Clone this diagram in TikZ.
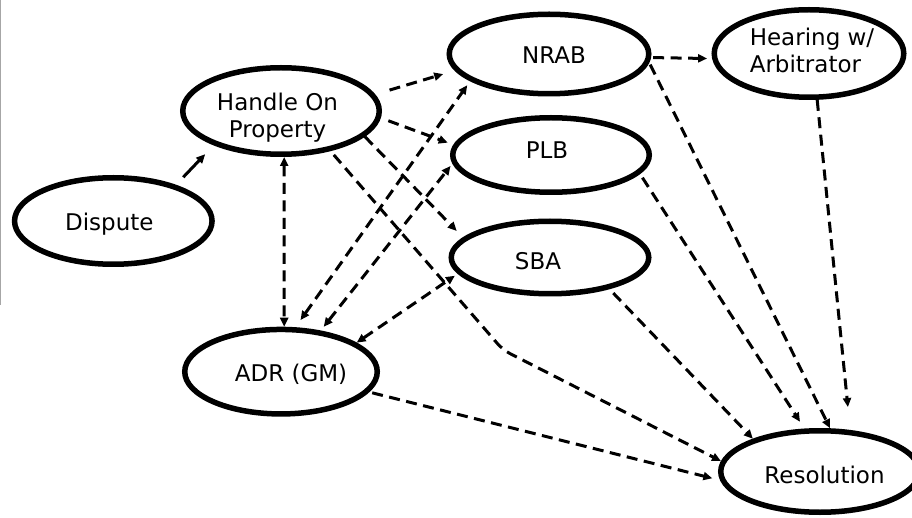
\documentclass[tikz,border=0pt]{standalone}
\usepackage{fontspec}
\setmainfont{DejaVu Sans}
\usetikzlibrary{shapes.geometric,arrows.meta}

\begin{document}
\begin{tikzpicture}[x=1pt,y=-1pt,
  bubble/.style={ellipse, draw=black, line width=5.5pt, fill=white, inner sep=0pt},
  txt/.style={font=\fontsize{23}{27}\selectfont, align=center, inner sep=0pt},
  headtip/.style={-{Triangle[length=9pt,width=8pt]}},
  link/.style={line width=3pt, dash pattern=on 11pt off 6.5pt, headtip},
  twoway/.style={line width=3pt, dash pattern=on 11pt off 6.5pt,
    {Triangle[length=9pt,width=8pt]}-{Triangle[length=9pt,width=8pt]}},
  solidlink/.style={line width=3pt, headtip}
]
\clip (0,0) rectangle (912,518);
\fill[white] (0,0) rectangle (912,518);
\draw[gray!70, line width=1pt] (0.5,0) -- (0.5,305);

% states of the process
\node[bubble, minimum width=197.5pt, minimum height=86.5pt,
  label={[txt,xshift=-4pt,yshift=-3pt]center:Dispute}] (dis) at (113.3,221) {};
\node[bubble, minimum width=196.5pt, minimum height=86.5pt,
  label={[txt,xshift=-3.5pt,yshift=-6.5pt]center:Handle On\\Property}] (hop) at (281,111) {};
\node[bubble, minimum width=199.5pt, minimum height=79.5pt,
  label={[txt,xshift=5pt,yshift=-1pt]center:NRAB}] (nrab) at (549,54) {};
\node[bubble, minimum width=189.5pt, minimum height=87.5pt,
  label={[txt,align=left,xshift=3pt,yshift=3.5pt]center:Hearing w/\\Arbitrator}] (hear) at (809,53.5) {};
\node[bubble, minimum width=196.5pt, minimum height=74.5pt,
  label={[txt,xshift=-4pt,yshift=5pt]center:PLB}] (plb) at (551,155) {};
\node[bubble, minimum width=197.5pt, minimum height=72.5pt,
  label={[txt,xshift=-12pt,yshift=-4pt]center:SBA}] (sba) at (550,257.5) {};
\node[bubble, minimum width=192.5pt, minimum height=84.5pt,
  label={[txt,xshift=10pt,yshift=-2.8pt]center:ADR (GM)}] (adr) at (281,371.7) {};
\node[bubble, minimum width=198.5pt, minimum height=81.5pt,
  label={[txt,xshift=4.5pt,yshift=-3pt]center:Resolution}] (res) at (820,471.5) {};

% transitions
\draw[solidlink, shorten <=10.5pt, shorten >=12.3pt] (dis.30.8) -- (hop.-153);
\draw[twoway] (hop.-86) -- (adr.86);
\draw[link, shorten <=15pt, shorten >=12pt] (hop.10.5) -- (nrab.-170);
\draw[link, shorten <=8pt, shorten >=6pt] (hop.-4.6) -- (plb.174.8);
\draw[link, shorten >=9pt] (hop.-17) -- (sba.167.7);
\coordinate (bend) at (503,350);
\draw[link, rounded corners=8pt, shorten <=5pt] (hop.-39) -- (bend) -- (res.174.4);
\draw[twoway, shorten <=8.7pt, shorten >=5pt] (adr.72.6) -- (nrab.-161.3);
\draw[twoway, shorten <=4.7pt, shorten >=3pt] (adr.46.3) -- (plb.-175.6);
\draw[twoway, shorten >=3.5pt] (adr.21.6) -- (sba.-170.7);
\draw[link, shorten <=2pt, shorten >=5pt] (nrab.-2.2) -- (hear.-177.3);
\draw[link, shorten <=2pt] (nrab.-5.7) -- (res.77);
\draw[link, shorten <=4.5pt, shorten >=8pt] (plb.-12.5) -- (res.110.8);
\draw[link, shorten <=5.5pt] (sba.-28.1) -- (res.154.1);
\draw[link, shorten <=3pt, shorten >=8pt] (adr.-13.4) -- (res.-175.2);
\draw[link, shorten >=23pt] (hear.-80.4) -- (res.54.7);
\end{tikzpicture}
\end{document}
